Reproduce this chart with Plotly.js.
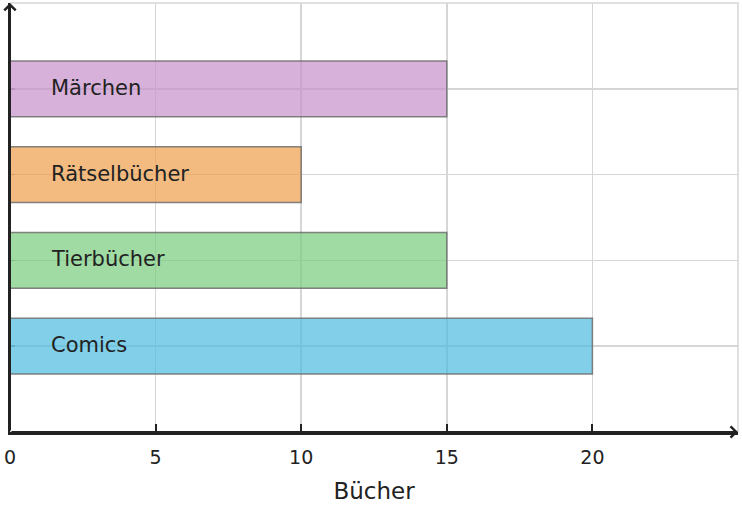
<!DOCTYPE html>
<html>
<head>
<meta charset="utf-8">
<script src="https://cdn.plot.ly/plotly-3.0.1.min.js"></script>
<style>
  html, body { margin: 0; padding: 0; background: #fff; }
  #chart { width: 742px; height: 508px; }
</style>
</head>
<body>
<div id="chart"></div>
<script>
// data
const categories = ["Comics", "Tierbücher", "Rätselbücher", "Märchen"];
const books = [20, 15, 10, 15];
const barColors = ["rgba(76,186,222,0.7)", "rgba(119,204,125,0.7)", "rgba(238,158,74,0.7)", "rgba(198,144,202,0.7)"];
const xTicks = [0, 5, 10, 15, 20];
const xMax = 25;

const font = "DejaVu Sans";

const trace = {
    type: "bar",
    orientation: "h",
    x: books,
    y: categories,
    width: 0.65,
    marker: {
        color: barColors,
        line: { color: "rgba(110,110,110,0.85)", width: 1.5 }
    },
    hoverinfo: "none"
};

// labels inside the bars, near the left end
let labels = categories.map(c => ({
    x: 0, y: c, xref: "x", yref: "y",
    text: c, showarrow: false,
    xanchor: "left", xshift: 39, yshift: 1,
    font: { family: font, size: 21, color: "#222" }
}));

// arrow heads on the axes
labels.push({
    x: xMax, y: -1, ax: 0, ay: -1,
    xref: "x", yref: "y", axref: "x", ayref: "y",
    showarrow: true, arrowhead: 4, arrowsize: 1.1, arrowwidth: 2, arrowcolor: "#222", text: ""
});
labels.push({
    x: 0, y: 4, ax: 0, ay: -1,
    xref: "x", yref: "y", axref: "x", ayref: "y",
    showarrow: true, arrowhead: 4, arrowsize: 1.1, arrowwidth: 2, arrowcolor: "#222", text: ""
});

const layout = {
    width: 742,
    height: 508,
    margin: { l: 10, r: 4, t: 3, b: 76 },
    paper_bgcolor: "#fff",
    plot_bgcolor: "#fff",
    showlegend: false,
    xaxis: {
        range: [0, xMax],
        tickvals: xTicks,
        ticktext: xTicks.map(String),
        showgrid: true,
        gridcolor: "#d6d6d6",
        gridwidth: 1.5,
        zeroline: false,
        showline: true,
        linecolor: "#222",
        linewidth: 2.5,
        ticks: "inside",
        ticklen: 8,
        tickwidth: 2,
        tickcolor: "#222",
        ticklabelstandoff: 7,
        tickfont: { family: font, size: 19, color: "#222" },
        title: { text: "Bücher", font: { family: font, size: 23, color: "#222" }, standoff: 16 },
        fixedrange: true
    },
    yaxis: {
        range: [-1, 4],
        showgrid: true,
        gridcolor: "#d6d6d6",
        gridwidth: 1.5,
        zeroline: false,
        showline: true,
        linecolor: "#222",
        linewidth: 2.5,
        ticks: "inside",
        ticklen: 5,
        tickwidth: 1.5,
        tickcolor: "#999",
        showticklabels: false,
        layer: "below traces",
        fixedrange: true
    },
    shapes: [{
        type: "rect", xref: "paper", yref: "paper",
        x0: 0, x1: 1, y0: 0, y1: 1,
        line: { color: "#d6d6d6", width: 1.5 },
        layer: "below"
    }],
    annotations: labels
};

Plotly.newPlot("chart", [trace], layout, { staticPlot: true, displayModeBar: false });
</script>
</body>
</html>
